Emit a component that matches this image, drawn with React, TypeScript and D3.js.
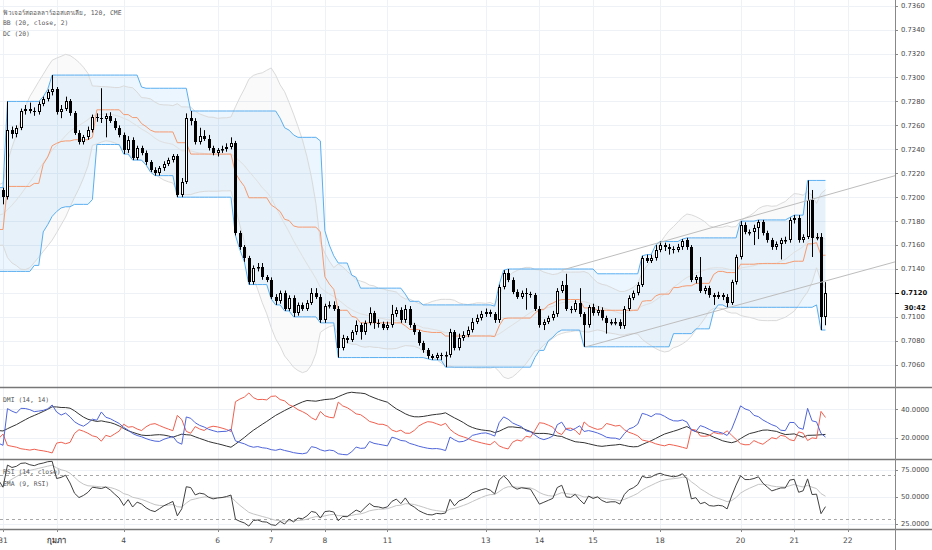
import React from 'react';
import * as d3 from 'd3';

type Bar = [number, number, number, number]; // open, high, low, close

// bars before the left edge (not on screen); estimated so the indicators start at the levels seen
const warmupBars: Bar[] = [
    [0.7190, 0.7195, 0.7187, 0.7192], [0.7192, 0.7195, 0.7185, 0.7188], [0.7188, 0.7198, 0.7185, 0.7195],
    [0.7195, 0.7198, 0.7187, 0.7190], [0.7190, 0.7193, 0.7181, 0.7184], [0.7184, 0.7192, 0.7181, 0.7189],
    [0.7189, 0.7197, 0.7186, 0.7194], [0.7194, 0.7201, 0.7191, 0.7198], [0.7198, 0.7201, 0.7190, 0.7193],
    [0.7193, 0.7196, 0.7184, 0.7187], [0.7187, 0.7190, 0.7179, 0.7182], [0.7182, 0.7189, 0.7179, 0.7186],
    [0.7186, 0.7194, 0.7183, 0.7191], [0.7191, 0.7199, 0.7188, 0.7196], [0.7196, 0.7204, 0.7193, 0.7201],
    [0.7201, 0.7204, 0.7194, 0.7197], [0.7197, 0.7200, 0.7189, 0.7192], [0.7192, 0.7195, 0.7185, 0.7188],
    [0.7188, 0.7191, 0.7180, 0.7183], [0.7183, 0.7186, 0.7176, 0.7179], [0.7179, 0.7187, 0.7176, 0.7184],
    [0.7184, 0.7193, 0.7181, 0.7190], [0.7190, 0.7193, 0.7184, 0.7187], [0.7187, 0.7196, 0.7184, 0.7193],
    [0.7193, 0.7201, 0.7190, 0.7198], [0.7198, 0.7205, 0.7195, 0.7202], [0.7202, 0.7205, 0.7193, 0.7196],
    [0.7196, 0.7199, 0.7188, 0.7191], [0.7191, 0.7194, 0.7183, 0.7186], [0.7186, 0.7189, 0.7178, 0.7181],
    [0.7181, 0.7184, 0.7174, 0.7177], [0.7177, 0.7185, 0.7174, 0.7182], [0.7182, 0.7191, 0.7179, 0.7188],
    [0.7188, 0.7191, 0.7182, 0.7185], [0.7185, 0.7193, 0.7182, 0.7190], [0.7190, 0.7197, 0.7187, 0.7194],
    [0.7194, 0.7197, 0.7186, 0.7189], [0.7189, 0.7192, 0.7181, 0.7184], [0.7184, 0.7187, 0.7177, 0.7180],
    [0.7180, 0.7183, 0.7173, 0.7176], [0.7176, 0.7183, 0.7173, 0.7180], [0.7180, 0.7187, 0.7177, 0.7184],
    [0.7184, 0.7187, 0.7175, 0.7178], [0.7178, 0.7181, 0.7169, 0.7172], [0.7172, 0.7179, 0.7169, 0.7176],
    [0.7176, 0.7179, 0.7167, 0.7170], [0.7170, 0.7176, 0.7167, 0.7173], [0.7173, 0.7176, 0.7138, 0.7165],
    [0.7165, 0.7173, 0.7162, 0.7170], [0.7170, 0.7177, 0.7143, 0.7174], [0.7174, 0.7183, 0.7171, 0.7180],
    [0.7180, 0.7189, 0.7177, 0.7186], [0.7186, 0.7194, 0.7184, 0.7191], [0.7191, 0.7197, 0.7188, 0.7194],
    [0.7194, 0.7201, 0.7191, 0.7198], [0.7198, 0.7201, 0.7192, 0.7195], [0.7195, 0.7203, 0.7192, 0.7200],
    [0.7200, 0.7205, 0.7197, 0.7203], [0.7203, 0.7206, 0.7200, 0.7204], [0.7204, 0.7208, 0.7202, 0.7206],
];

// visible 120 min bars, 31 Jan -> 21 Feb
const bars: Bar[] = [
    [0.7206, 0.7208, 0.7194, 0.7200], [0.7200, 0.7280, 0.7198, 0.7256], [0.7256, 0.7259, 0.7249, 0.7253],
    [0.7253, 0.7260, 0.7250, 0.7258], [0.7258, 0.7274, 0.7256, 0.7272], [0.7272, 0.7277, 0.7269, 0.7274],
    [0.7274, 0.7279, 0.7270, 0.7272], [0.7272, 0.7275, 0.7268, 0.7271], [0.7271, 0.7280, 0.7269, 0.7278],
    [0.7278, 0.7284, 0.7276, 0.7282], [0.7282, 0.7290, 0.7280, 0.7288], [0.7288, 0.7302, 0.7285, 0.7290],
    [0.7290, 0.7292, 0.7269, 0.7271], [0.7271, 0.7277, 0.7266, 0.7274], [0.7274, 0.7284, 0.7272, 0.7280],
    [0.7280, 0.7282, 0.7268, 0.7270], [0.7270, 0.7272, 0.7252, 0.7254], [0.7254, 0.7256, 0.7244, 0.7246],
    [0.7246, 0.7252, 0.7244, 0.7250], [0.7250, 0.7259, 0.7248, 0.7256], [0.7256, 0.7269, 0.7254, 0.7267],
    [0.7267, 0.7270, 0.7263, 0.7266], [0.7266, 0.7291, 0.7262, 0.7265], [0.7265, 0.7270, 0.7250, 0.7268],
    [0.7268, 0.7271, 0.7262, 0.7264], [0.7264, 0.7266, 0.7256, 0.7258], [0.7258, 0.7260, 0.7250, 0.7252],
    [0.7252, 0.7254, 0.7236, 0.7239], [0.7239, 0.7251, 0.7237, 0.7248], [0.7248, 0.7250, 0.7231, 0.7233],
    [0.7233, 0.7243, 0.7231, 0.7241], [0.7241, 0.7243, 0.7235, 0.7237], [0.7237, 0.7239, 0.7227, 0.7229],
    [0.7229, 0.7231, 0.7221, 0.7223], [0.7223, 0.7225, 0.7218, 0.7220], [0.7220, 0.7226, 0.7218, 0.7224],
    [0.7224, 0.7230, 0.7222, 0.7228], [0.7228, 0.7233, 0.7226, 0.7231], [0.7231, 0.7236, 0.7229, 0.7234],
    [0.7234, 0.7236, 0.7200, 0.7202], [0.7202, 0.7216, 0.7200, 0.7213], [0.7213, 0.7270, 0.7211, 0.7266],
    [0.7266, 0.7272, 0.7260, 0.7264], [0.7264, 0.7266, 0.7244, 0.7246], [0.7246, 0.7258, 0.7244, 0.7251],
    [0.7251, 0.7256, 0.7247, 0.7249], [0.7249, 0.7252, 0.7239, 0.7241], [0.7241, 0.7243, 0.7235, 0.7237],
    [0.7237, 0.7241, 0.7234, 0.7239], [0.7239, 0.7243, 0.7237, 0.7240], [0.7240, 0.7245, 0.7238, 0.7242],
    [0.7242, 0.7250, 0.7240, 0.7245], [0.7245, 0.7247, 0.7168, 0.7170], [0.7170, 0.7172, 0.7156, 0.7158],
    [0.7158, 0.7160, 0.7146, 0.7149], [0.7149, 0.7151, 0.7127, 0.7129], [0.7129, 0.7143, 0.7127, 0.7141],
    [0.7141, 0.7145, 0.7138, 0.7142], [0.7142, 0.7145, 0.7131, 0.7133], [0.7133, 0.7135, 0.7129, 0.7131],
    [0.7131, 0.7133, 0.7115, 0.7117], [0.7117, 0.7119, 0.7110, 0.7113], [0.7113, 0.7122, 0.7111, 0.7120],
    [0.7120, 0.7122, 0.7105, 0.7107], [0.7107, 0.7118, 0.7105, 0.7116], [0.7116, 0.7118, 0.7100, 0.7103],
    [0.7103, 0.7112, 0.7101, 0.7110], [0.7110, 0.7112, 0.7105, 0.7107], [0.7107, 0.7114, 0.7105, 0.7112],
    [0.7112, 0.7124, 0.7110, 0.7120], [0.7120, 0.7124, 0.7115, 0.7117], [0.7117, 0.7119, 0.7095, 0.7097],
    [0.7097, 0.7111, 0.7095, 0.7109], [0.7109, 0.7113, 0.7107, 0.7110], [0.7110, 0.7113, 0.7105, 0.7107],
    [0.7107, 0.7109, 0.7066, 0.7074], [0.7074, 0.7085, 0.7072, 0.7082], [0.7082, 0.7084, 0.7078, 0.7081],
    [0.7081, 0.7089, 0.7079, 0.7087], [0.7087, 0.7097, 0.7085, 0.7093], [0.7093, 0.7095, 0.7081, 0.7087],
    [0.7087, 0.7097, 0.7085, 0.7095], [0.7095, 0.7108, 0.7093, 0.7103], [0.7103, 0.7105, 0.7090, 0.7095],
    [0.7095, 0.7098, 0.7091, 0.7094], [0.7094, 0.7096, 0.7089, 0.7091], [0.7091, 0.7096, 0.7089, 0.7093],
    [0.7093, 0.7110, 0.7091, 0.7102], [0.7102, 0.7108, 0.7100, 0.7106], [0.7106, 0.7108, 0.7095, 0.7097],
    [0.7097, 0.7110, 0.7095, 0.7107], [0.7107, 0.7109, 0.7091, 0.7093], [0.7093, 0.7095, 0.7085, 0.7087],
    [0.7087, 0.7089, 0.7076, 0.7078], [0.7078, 0.7080, 0.7070, 0.7072], [0.7072, 0.7074, 0.7065, 0.7067],
    [0.7067, 0.7069, 0.7064, 0.7066], [0.7066, 0.7070, 0.7064, 0.7068], [0.7068, 0.7070, 0.7064, 0.7067],
    [0.7067, 0.7071, 0.7058, 0.7068], [0.7068, 0.7090, 0.7066, 0.7087], [0.7087, 0.7089, 0.7072, 0.7074],
    [0.7074, 0.7086, 0.7072, 0.7082], [0.7082, 0.7088, 0.7080, 0.7085], [0.7085, 0.7092, 0.7083, 0.7089],
    [0.7089, 0.7099, 0.7087, 0.7096], [0.7096, 0.7102, 0.7094, 0.7099], [0.7099, 0.7105, 0.7097, 0.7102],
    [0.7102, 0.7107, 0.7100, 0.7104], [0.7104, 0.7106, 0.7100, 0.7102], [0.7102, 0.7104, 0.7095, 0.7097],
    [0.7097, 0.7127, 0.7095, 0.7125], [0.7125, 0.7139, 0.7123, 0.7137], [0.7137, 0.7140, 0.7129, 0.7131],
    [0.7131, 0.7133, 0.7119, 0.7121], [0.7121, 0.7123, 0.7115, 0.7117], [0.7117, 0.7122, 0.7115, 0.7120],
    [0.7120, 0.7124, 0.7106, 0.7119], [0.7119, 0.7121, 0.7116, 0.7118], [0.7118, 0.7120, 0.7105, 0.7107],
    [0.7107, 0.7109, 0.7091, 0.7093], [0.7093, 0.7098, 0.7089, 0.7096], [0.7096, 0.7101, 0.7094, 0.7099],
    [0.7099, 0.7105, 0.7097, 0.7102], [0.7102, 0.7124, 0.7100, 0.7122], [0.7122, 0.7130, 0.7120, 0.7127],
    [0.7127, 0.7136, 0.7105, 0.7107], [0.7107, 0.7109, 0.7103, 0.7106], [0.7106, 0.7114, 0.7104, 0.7112],
    [0.7112, 0.7124, 0.7100, 0.7102], [0.7102, 0.7104, 0.7075, 0.7093], [0.7093, 0.7110, 0.7091, 0.7108],
    [0.7108, 0.7111, 0.7101, 0.7103], [0.7103, 0.7109, 0.7101, 0.7106], [0.7106, 0.7108, 0.7097, 0.7099],
    [0.7099, 0.7101, 0.7086, 0.7095], [0.7095, 0.7098, 0.7093, 0.7096], [0.7096, 0.7099, 0.7093, 0.7096],
    [0.7096, 0.7098, 0.7090, 0.7092], [0.7092, 0.7109, 0.7090, 0.7107], [0.7107, 0.7118, 0.7105, 0.7116],
    [0.7116, 0.7122, 0.7114, 0.7120], [0.7120, 0.7129, 0.7118, 0.7127], [0.7127, 0.7151, 0.7125, 0.7149],
    [0.7149, 0.7152, 0.7145, 0.7147], [0.7147, 0.7152, 0.7145, 0.7149], [0.7149, 0.7160, 0.7147, 0.7156],
    [0.7156, 0.7163, 0.7154, 0.7160], [0.7160, 0.7162, 0.7155, 0.7158], [0.7158, 0.7161, 0.7152, 0.7157],
    [0.7157, 0.7159, 0.7153, 0.7156], [0.7156, 0.7161, 0.7154, 0.7158], [0.7158, 0.7165, 0.7156, 0.7163],
    [0.7164, 0.7166, 0.7156, 0.7158], [0.7158, 0.7160, 0.7129, 0.7131], [0.7131, 0.7135, 0.7128, 0.7133],
    [0.7133, 0.7150, 0.7120, 0.7122], [0.7122, 0.7126, 0.7119, 0.7124], [0.7124, 0.7126, 0.7116, 0.7118],
    [0.7118, 0.7120, 0.7110, 0.7117], [0.7117, 0.7121, 0.7115, 0.7118], [0.7118, 0.7120, 0.7114, 0.7117],
    [0.7117, 0.7119, 0.7108, 0.7112], [0.7112, 0.7131, 0.7110, 0.7129], [0.7129, 0.7152, 0.7127, 0.7150],
    [0.7150, 0.7180, 0.7148, 0.7177], [0.7177, 0.7179, 0.7169, 0.7171], [0.7171, 0.7173, 0.7168, 0.7171],
    [0.7171, 0.7177, 0.7160, 0.7174], [0.7174, 0.7181, 0.7165, 0.7179], [0.7179, 0.7181, 0.7168, 0.7170],
    [0.7170, 0.7172, 0.7162, 0.7164], [0.7164, 0.7166, 0.7156, 0.7158], [0.7158, 0.7163, 0.7156, 0.7161],
    [0.7161, 0.7166, 0.7148, 0.7164], [0.7164, 0.7167, 0.7161, 0.7164], [0.7164, 0.7183, 0.7162, 0.7181],
    [0.7181, 0.7185, 0.7178, 0.7183], [0.7183, 0.7185, 0.7162, 0.7164], [0.7164, 0.7169, 0.7162, 0.7167],
    [0.7167, 0.7214, 0.7165, 0.7198], [0.7198, 0.7206, 0.7150, 0.7166], [0.7166, 0.7170, 0.7164, 0.7167],
    [0.7167, 0.7170, 0.7089, 0.7100], [0.7100, 0.7129, 0.7093, 0.7120],
];

const dateTicks = [
    { label: '31', bar: 0, bold: false },
    { label: 'กุมภา', bar: 12, bold: true },
    { label: '4', bar: 27, bold: false },
    { label: '6', bar: 48, bold: false },
    { label: '7', bar: 60, bold: false },
    { label: '8', bar: 72, bold: false },
    { label: '11', bar: 86, bold: false },
    { label: '13', bar: 108, bold: false },
    { label: '14', bar: 120, bold: false },
    { label: '15', bar: 132, bold: false },
    { label: '18', bar: 147, bold: false },
    { label: '20', bar: 165, bold: false },
    { label: '21', bar: 177, bold: false },
    { label: '22', bar: 189, bold: false },
];

const priceTicks = [0.7060, 0.7080, 0.7100, 0.7140, 0.7160, 0.7180, 0.7200, 0.7220,
    0.7240, 0.7260, 0.7280, 0.7300, 0.7320, 0.7340, 0.7360];
const priceGrid = [0.7060, 0.7080, 0.7100, 0.7120, 0.7140, 0.7160, 0.7180, 0.7200, 0.7220,
    0.7240, 0.7260, 0.7280, 0.7300, 0.7320, 0.7340, 0.7360];
const dmiTicks = [20, 40];
const rsiTicks = [25, 50, 75];
const rsiLevels = [30, 70];

// user drawn channel: [bar, price] end points
const channelUpper: [number, number][] = [[125, 0.7139], [199.6, 0.7218]];
const channelLower: [number, number][] = [[130.4, 0.7075], [199.6, 0.7146]];

const lastPrice = 0.7120;
const countdown = '30:42';

const legendMain = ['ฟิวเจอร์สดอลลาร์ออสเตรเลีย, 120, CME', 'BB (20, close, 2)', 'DC (20)'];
const legendDmi = 'DMI (14, 14)';
const legendRsi = ['RSI (14, close)', 'EMA (9, RSI)'];

// ---- indicators ----
const all = [...warmupBars, ...bars];
const W0 = warmupBars.length;
const Hi = all.map(b => b[1]);
const Lo = all.map(b => b[2]);
const C = all.map(b => b[3]);

function sma(src: number[], n: number) {
    return src.map((_, i) => (i < n - 1 ? NaN : d3.mean(src.slice(i - n + 1, i + 1)) as number));
}
function stdev(src: number[], n: number) {
    return src.map((_, i) => {
        if (i < n - 1) return NaN;
        const w = src.slice(i - n + 1, i + 1);
        const m = d3.mean(w) as number;
        return Math.sqrt(d3.sum(w, v => (v - m) * (v - m)) / n);
    });
}
function smooth(src: number[], n: number, alpha: number) {
    const out: number[] = new Array(src.length).fill(NaN);
    let prev = NaN, sum = 0, count = 0;
    src.forEach((v, i) => {
        if (!Number.isFinite(v)) return;
        if (Number.isNaN(prev)) {
            sum += v; count++;
            if (count === n) { prev = sum / n; out[i] = prev; }
        } else {
            prev = alpha * v + (1 - alpha) * prev;
            out[i] = prev;
        }
    });
    return out;
}
const rma = (src: number[], n: number) => smooth(src, n, 1 / n);
const ema = (src: number[], n: number) => smooth(src, n, 2 / (n + 1));

const bbBasis = sma(C, 20);
const bbDev = stdev(C, 20);
const bbUpper = bbBasis.map((m, i) => m + 2 * bbDev[i]);
const bbLower = bbBasis.map((m, i) => m - 2 * bbDev[i]);

const dcUpper = Hi.map((_, i) => (i < 19 ? NaN : d3.max(Hi.slice(i - 19, i + 1)) as number));
const dcLower = Lo.map((_, i) => (i < 19 ? NaN : d3.min(Lo.slice(i - 19, i + 1)) as number));
const dcBasis = dcUpper.map((u, i) => (u + dcLower[i]) / 2);

const chg = C.map((c, i) => (i === 0 ? NaN : c - C[i - 1]));
const gain = rma(chg.map(v => (Number.isFinite(v) ? Math.max(v, 0) : NaN)), 14);
const loss = rma(chg.map(v => (Number.isFinite(v) ? Math.max(-v, 0) : NaN)), 14);
const rsi = gain.map((g, i) => (loss[i] === 0 ? 100 : g === 0 ? 0 : 100 - 100 / (1 + g / loss[i])));
const rsiEma = ema(rsi, 9);

const tr = all.map((_, i) => (i === 0 ? NaN : Math.max(Hi[i] - Lo[i], Math.abs(Hi[i] - C[i - 1]), Math.abs(Lo[i] - C[i - 1]))));
const plusDM = all.map((_, i) => {
    if (i === 0) return NaN;
    const up = Hi[i] - Hi[i - 1], dn = Lo[i - 1] - Lo[i];
    return up > dn && up > 0 ? up : 0;
});
const minusDM = all.map((_, i) => {
    if (i === 0) return NaN;
    const up = Hi[i] - Hi[i - 1], dn = Lo[i - 1] - Lo[i];
    return dn > up && dn > 0 ? dn : 0;
});
const trur = rma(tr, 14);
const plusDI = rma(plusDM, 14).map((v, i) => (100 * v) / trur[i]);
const minusDI = rma(minusDM, 14).map((v, i) => (100 * v) / trur[i]);
const adx = rma(plusDI.map((p, i) => {
    const s = p + minusDI[i];
    return Number.isFinite(s) ? Math.abs(p - minusDI[i]) / (s === 0 ? 1 : s) : NaN;
}), 14).map(v => 100 * v);

// ---- layout ----
const W = 932, H = 550;
const AXIS_X = 895;
const MAIN_B = 387, DMI_B = 459, RSI_B = 529;

const x = d3.scaleLinear().domain([0, 189]).range([3, 3 + 189 * 4.47]);
const yPrice = d3.scaleLinear().domain([0.7140, 0.7360]).range([269, 5.66]);
const yDmi = d3.scaleLinear().domain([20, 40]).range([437.7, 409.3]);
const yRsi = d3.scaleLinear().domain([25, 75]).range([524, 470]);

const span = d3.range(-1, bars.length);

function linePath(series: number[], y: d3.ScaleLinear<number, number>) {
    return d3.line<number>()
        .defined(k => Number.isFinite(series[k + W0]))
        .x(k => x(k))
        .y(k => y(series[k + W0]))(span) || '';
}
function bandPath(lo: number[], hi: number[]) {
    return d3.area<number>()
        .defined(k => Number.isFinite(lo[k + W0]) && Number.isFinite(hi[k + W0]))
        .x(k => x(k))
        .y0(k => yPrice(lo[k + W0]))
        .y1(k => yPrice(hi[k + W0]))(span) || '';
}

const GRID = '#eef1f6';
const TEXT = '#4a4a4a';
const MONO = "'DejaVu Sans Mono', 'Liberation Mono', monospace";
const crisp = (v: number) => Math.round(v) + 0.5;

export default function App() {
    const fmt4 = d3.format('.4f');
    const yLast = yPrice(lastPrice);
    return (
        <svg width={W} height={H} style={{ position: 'absolute', left: 0, top: 0, background: '#fff' }}
            fontFamily="'DejaVu Sans', 'Noto Sans', sans-serif">
            <defs>
                <clipPath id="clipMain"><rect x={0} y={0} width={AXIS_X} height={MAIN_B} /></clipPath>
                <clipPath id="clipDmi"><rect x={0} y={MAIN_B} width={AXIS_X} height={DMI_B - MAIN_B} /></clipPath>
                <clipPath id="clipRsi"><rect x={0} y={DMI_B} width={AXIS_X} height={RSI_B - DMI_B} /></clipPath>
            </defs>
            <rect width={W} height={H} fill="#fff" />

            {/* grid */}
            {dateTicks.map(t => (
                <line key={'vg' + t.bar} x1={crisp(x(t.bar))} x2={crisp(x(t.bar))} y1={0} y2={RSI_B} stroke={GRID} />
            ))}
            {priceGrid.map(p => (
                <line key={'hg' + p} x1={0} x2={AXIS_X} y1={crisp(yPrice(p))} y2={crisp(yPrice(p))} stroke={GRID} />
            ))}
            {dmiTicks.map(v => (
                <line key={'dg' + v} x1={0} x2={AXIS_X} y1={crisp(yDmi(v))} y2={crisp(yDmi(v))} stroke={GRID} />
            ))}
            {rsiTicks.map(v => (
                <line key={'rg' + v} x1={0} x2={AXIS_X} y1={crisp(yRsi(v))} y2={crisp(yRsi(v))} stroke={GRID} />
            ))}

            {/* main panel */}
            <g clipPath="url(#clipMain)">
                <path d={bandPath(bbLower, bbUpper)} fill="rgba(0,0,0,0.018)" />
                <path d={bandPath(dcLower, dcUpper)} fill="rgba(33,150,243,0.085)" />
                <path d={linePath(bbUpper, yPrice)} fill="none" stroke="#dadada" strokeWidth={1} />
                <path d={linePath(bbLower, yPrice)} fill="none" stroke="#dadada" strokeWidth={1} />
                <path d={linePath(bbBasis, yPrice)} fill="none" stroke="#e0e0e0" strokeWidth={1} />
                <path d={linePath(dcUpper, yPrice)} fill="none" stroke="#5aaef0" strokeWidth={1} />
                <path d={linePath(dcLower, yPrice)} fill="none" stroke="#5aaef0" strokeWidth={1} />
                <path d={linePath(dcBasis, yPrice)} fill="none" stroke="#f59a70" strokeWidth={1} />

                {bars.map((b, i) => {
                    const [o, h, l, c] = b;
                    const cx = Math.round(x(i));
                    const yo = yPrice(o), yc = yPrice(c);
                    const top = Math.round(Math.min(yo, yc));
                    const bot = Math.round(Math.max(yo, yc));
                    const up = c >= o;
                    return (
                        <g key={i}>
                            <line x1={cx + 0.5} x2={cx + 0.5} y1={yPrice(h)} y2={yPrice(l)} stroke="#000" strokeWidth={1} />
                            {up ? (
                                <rect x={cx - 0.5} y={top + 0.5} width={2} height={Math.max(bot - top - 1, 0.5)}
                                    fill="#fff" stroke="#000" strokeWidth={1} />
                            ) : (
                                <rect x={cx - 1} y={top} width={3} height={Math.max(bot - top, 1)} fill="#000" />
                            )}
                        </g>
                    );
                })}

                {[channelUpper, channelLower].map((seg, k) => (
                    <line key={'ch' + k} x1={x(seg[0][0])} y1={yPrice(seg[0][1])} x2={x(seg[1][0])} y2={yPrice(seg[1][1])}
                        stroke="#bdbdbd" strokeWidth={1} />
                ))}
            </g>

            {/* DMI panel */}
            <g clipPath="url(#clipDmi)">
                <path d={linePath(adx, yDmi)} fill="none" stroke="#333" strokeWidth={1} />
                <path d={linePath(minusDI, yDmi)} fill="none" stroke="#f0604f" strokeWidth={1} />
                <path d={linePath(plusDI, yDmi)} fill="none" stroke="#4f65d9" strokeWidth={1} />
            </g>

            {/* RSI panel */}
            <g clipPath="url(#clipRsi)">
                {rsiLevels.map(v => (
                    <line key={'lv' + v} x1={0} x2={AXIS_X} y1={crisp(yRsi(v))} y2={crisp(yRsi(v))}
                        stroke="#a8a8a8" strokeDasharray="3 3" />
                ))}
                <path d={linePath(rsiEma, yRsi)} fill="none" stroke="#c4c4c4" strokeWidth={1} />
                <path d={linePath(rsi, yRsi)} fill="none" stroke="#404040" strokeWidth={1} />
            </g>

            {/* legends */}
            <g fontFamily={MONO} fontSize={6.4} fill="#5a5a5a">
                {legendMain.map((t, k) => (
                    <text key={t} x={3} y={15 + k * 10.4}>{t}</text>
                ))}
                <text x={3} y={401.5}>{legendDmi}</text>
                {legendRsi.map((t, k) => (
                    <text key={t} x={3} y={474 + k * 12.4}>{t}</text>
                ))}
            </g>

            {/* panel borders and axis line */}
            {[MAIN_B, DMI_B, RSI_B].map(yy => (
                <line key={'pb' + yy} x1={0} x2={W} y1={yy + 0.5} y2={yy + 0.5} stroke="#777" strokeWidth={1.3} />
            ))}
            <line x1={AXIS_X + 0.5} x2={AXIS_X + 0.5} y1={0} y2={H} stroke="#888" strokeWidth={1} />

            {/* price axis */}
            <g fontSize={6.8} fill={TEXT}>
                {priceTicks.map(p => (
                    <g key={'pt' + p}>
                        <line x1={AXIS_X} x2={AXIS_X + 3} y1={crisp(yPrice(p))} y2={crisp(yPrice(p))} stroke="#888" />
                        <text x={AXIS_X + 6} y={yPrice(p)} dy="0.35em">{fmt4(p)}</text>
                    </g>
                ))}
                {dmiTicks.map(v => (
                    <g key={'dt' + v}>
                        <line x1={AXIS_X} x2={AXIS_X + 3} y1={crisp(yDmi(v))} y2={crisp(yDmi(v))} stroke="#888" />
                        <text x={AXIS_X + 6} y={yDmi(v)} dy="0.35em">{fmt4(v)}</text>
                    </g>
                ))}
                {rsiTicks.map(v => (
                    <g key={'rt' + v}>
                        <line x1={AXIS_X} x2={AXIS_X + 3} y1={crisp(yRsi(v))} y2={crisp(yRsi(v))} stroke="#888" />
                        <text x={AXIS_X + 6} y={yRsi(v)} dy="0.35em">{fmt4(v)}</text>
                    </g>
                ))}
                {/* last price label with bar countdown */}
                <rect x={AXIS_X + 1} y={yLast - 6} width={W - AXIS_X - 1} height={25} fill="#fff" />
                <line x1={AXIS_X} x2={AXIS_X + 4} y1={crisp(yLast)} y2={crisp(yLast)} stroke="#000" />
                <text x={AXIS_X + 6} y={yLast} dy="0.35em" fontWeight="bold" fill="#111">{fmt4(lastPrice)}</text>
                <text x={AXIS_X + 9} y={yLast + 14.5} dy="0.35em" fontWeight="bold" fill="#111">{countdown}</text>
            </g>

            {/* time axis */}
            <g fontSize={7.5} fill={TEXT} textAnchor="middle">
                {dateTicks.map(t => (
                    <g key={'tt' + t.bar}>
                        <line x1={crisp(x(t.bar))} x2={crisp(x(t.bar))} y1={RSI_B} y2={RSI_B + 3} stroke="#888" />
                        <text x={x(t.bar)} y={543} fontWeight={t.bold ? 'bold' : 'normal'}>{t.label}</text>
                    </g>
                ))}
            </g>
        </svg>
    );
}
